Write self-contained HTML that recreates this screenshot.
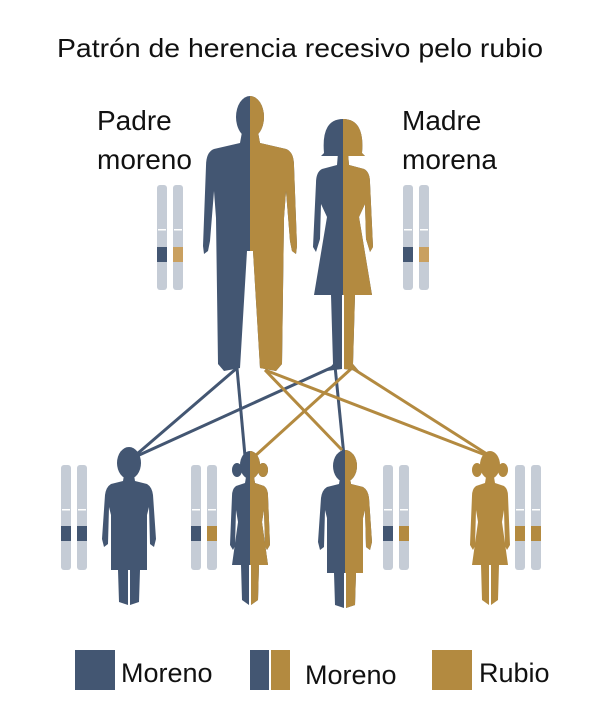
<!DOCTYPE html>
<html><head><meta charset="utf-8"><style>
html,body{margin:0;padding:0;background:#fff}
svg{display:block}
text{font-family:"Liberation Sans",sans-serif;fill:#111}
</style></head><body>
<svg width="602" height="724" viewBox="0 0 602 724" xmlns="http://www.w3.org/2000/svg">
<defs>
<g id="man">
<ellipse cx="0" cy="21" rx="14" ry="21"/>
<path d="M-8,36 L8,36 L10,47 L36,53 Q44,56 44,70 L47,150 L46,158 L42,155 L40,145 L36,95 L34,122 L32,268 L26,275 L10,272 L3,155 L-3,155 L-10,272 L-26,275 L-32,268 L-34,122 L-36,95 L-40,145 L-42,155 L-46,158 L-47,150 L-44,70 Q-44,56 -36,53 L-10,47 Z"/>
</g>
<g id="woman">
<path d="M-19,34 Q-22,0 0,0 Q22,0 19,34 L22,37 L-22,37 Z"/>
<path d="M-5,34 L5,34 L6,46 L21,50 Q27,53 27,64 L30,128 L27,133 L23,120 L22,85 L16,98 L29,176 L12,176 L10,245 L16,252 L1,250 L1,176 L-1,176 L-1,250 L-16,252 L-10,245 L-12,176 L-29,176 L-16,98 L-22,85 L-23,120 L-27,133 L-30,128 L-27,64 Q-27,53 -21,50 L-6,46 Z"/>
</g>
<g id="boy">
<ellipse cx="0" cy="16" rx="12" ry="16"/>
<path d="M-5,28 L5,28 L6,34 L18,37 Q23,40 24,48 L27,92 L25,100 L21,97 L20,60 L18,68 L18,123 L11,123 L10,155 L1,158 L1,123 L-1,123 L-1,158 L-10,155 L-11,123 L-18,123 L-18,68 L-20,60 L-21,97 L-25,100 L-27,92 L-24,48 Q-23,40 -18,37 L-6,34 Z"/>
</g>
<g id="girl">
<ellipse cx="0" cy="15" rx="10" ry="14"/>
<ellipse cx="-13" cy="20" rx="5" ry="7"/>
<ellipse cx="13" cy="20" rx="5" ry="7"/>
<path d="M-4,27 L4,27 L5,33 L14,36 Q18,39 18,46 L20,95 L17,100 L15,96 L14,60 L12,72 L18,115 L9,115 L8,150 L1,155 L1,115 L-1,115 L-1,155 L-8,150 L-9,115 L-18,115 L-12,72 L-14,60 L-15,96 L-17,100 L-20,95 L-18,46 Q-18,39 -14,36 L-5,33 Z"/>
</g>
<clipPath id="rh"><rect x="0" y="-10" width="100" height="400"/></clipPath>
<g id="chr">
<rect x="0" y="0" width="10" height="105" rx="3" fill="#c5ccd6"/>
<rect x="1" y="44" width="8" height="1.5" fill="#fff"/>
</g>
</defs>

<text x="57" y="57" font-size="26" textLength="486" lengthAdjust="spacingAndGlyphs">Patrón de herencia recesivo pelo rubio</text>
<text x="97" y="130" font-size="28">Padre</text>
<text x="97" y="169" font-size="28">moreno</text>
<text x="402" y="130" font-size="28">Madre</text>
<text x="402" y="169" font-size="28">morena</text>

<g stroke-width="3" fill="none">
<line x1="237" y1="368" x2="137" y2="454" stroke="#435672"/>
<line x1="237" y1="368" x2="245" y2="456" stroke="#435672"/>
<line x1="335" y1="366" x2="137" y2="456" stroke="#435672"/>
<line x1="335" y1="366" x2="344" y2="456" stroke="#435672"/>
<line x1="265" y1="370" x2="342" y2="450" stroke="#b38a40"/>
<line x1="265" y1="370" x2="488" y2="456" stroke="#b38a40"/>
<line x1="352" y1="368" x2="255" y2="456" stroke="#b38a40"/>
<line x1="352" y1="368" x2="490" y2="456" stroke="#b38a40"/>
</g>

<g transform="translate(250,96)"><use href="#man" fill="#435672"/><use href="#man" fill="#b38a40" clip-path="url(#rh)"/></g>
<g transform="translate(343,119)"><use href="#woman" fill="#435672"/><use href="#woman" fill="#b38a40" clip-path="url(#rh)"/></g>

<g transform="translate(129,447)"><use href="#boy" fill="#435672"/></g>
<g transform="translate(250,450)"><use href="#girl" fill="#435672"/><use href="#girl" fill="#b38a40" clip-path="url(#rh)"/></g>
<g transform="translate(345,450)"><use href="#boy" fill="#435672"/><use href="#boy" fill="#b38a40" clip-path="url(#rh)"/></g>
<g transform="translate(490,450)"><use href="#girl" fill="#b38a40"/></g>

<g transform="translate(157,185)"><use href="#chr"/><rect x="0" y="62" width="10" height="15" fill="#435672"/></g>
<g transform="translate(173,185)"><use href="#chr"/><rect x="0" y="62" width="10" height="15" fill="#c9a060"/></g>
<g transform="translate(403,185)"><use href="#chr"/><rect x="0" y="62" width="10" height="15" fill="#435672"/></g>
<g transform="translate(419,185)"><use href="#chr"/><rect x="0" y="62" width="10" height="15" fill="#c9a060"/></g>

<g transform="translate(61,465)"><use href="#chr"/><rect x="0" y="61" width="10" height="15" fill="#435672"/></g>
<g transform="translate(77,465)"><use href="#chr"/><rect x="0" y="61" width="10" height="15" fill="#435672"/></g>
<g transform="translate(191,465)"><use href="#chr"/><rect x="0" y="61" width="10" height="15" fill="#435672"/></g>
<g transform="translate(207,465)"><use href="#chr"/><rect x="0" y="61" width="10" height="15" fill="#b38a40"/></g>
<g transform="translate(383,465)"><use href="#chr"/><rect x="0" y="61" width="10" height="15" fill="#435672"/></g>
<g transform="translate(399,465)"><use href="#chr"/><rect x="0" y="61" width="10" height="15" fill="#b38a40"/></g>
<g transform="translate(515,465)"><use href="#chr"/><rect x="0" y="61" width="10" height="15" fill="#b38a40"/></g>
<g transform="translate(531,465)"><use href="#chr"/><rect x="0" y="61" width="10" height="15" fill="#b38a40"/></g>

<rect x="75" y="650" width="40" height="40" fill="#435672"/>
<text x="121" y="682" font-size="27">Moreno</text>
<rect x="250" y="650" width="20" height="40" fill="#435672"/>
<rect x="270" y="650" width="20" height="40" fill="#b38a40"/>
<rect x="269" y="650" width="2" height="40" fill="#fff"/>
<text x="305" y="684" font-size="27">Moreno</text>
<rect x="432" y="650" width="40" height="40" fill="#b38a40"/>
<text x="479" y="682" font-size="27">Rubio</text>
</svg>
</body></html>
